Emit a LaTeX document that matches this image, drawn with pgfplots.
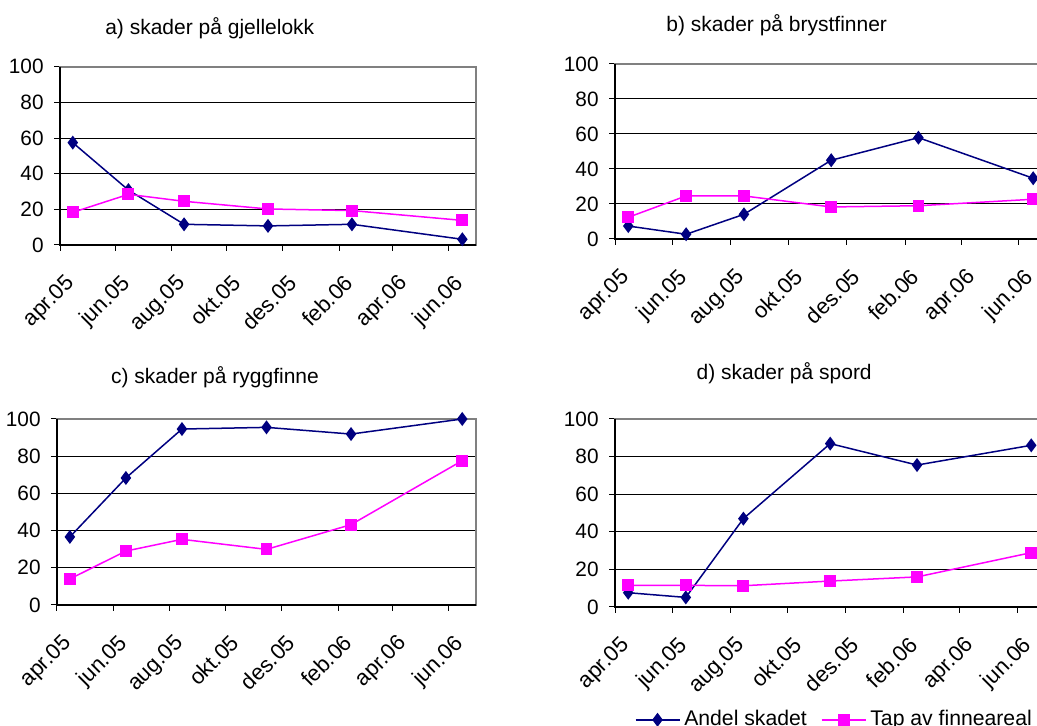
\documentclass[border=0pt]{standalone}
\usepackage{fontspec}
\setmainfont{Liberation Sans}
\usepackage{pgfplots}
\pgfplotsset{compat=1.18}

\definecolor{navy}{RGB}{0,0,128}
\definecolor{mag}{RGB}{255,0,255}
\definecolor{framegray}{RGB}{128,128,128}

% x is days since 1 April 2005
\pgfplotsset{
  panel/.style={
    scale only axis,
    xmin=0, xmax=456, ymin=0, ymax=100,
    xtick={0,61,122,183,244,306,365,426},
    xticklabels={apr.05,jun.05,aug.05,okt.05,des.05,feb.06,apr.06,jun.06},
    ytick={0,20,40,60,80,100},
    tick align=outside, xtick pos=bottom, ytick pos=left,
    major tick length=3pt,
    tick style={black, line width=0.5pt},
    ymajorgrids, grid style={black, line width=0.5pt},
    axis line style={framegray, line width=1pt},
    /pgf/number format/assume math mode=true,
    yticklabel style={font=\fontsize{10.4}{12}\selectfont, inner sep=0pt, xshift=-5pt},
    % shifts below act in the rotated frame of the label
    xticklabel style={font=\fontsize{11}{13}\selectfont, rotate=45, anchor=north east,
      inner sep=1pt, xshift=-5.3pt, yshift=-8.1pt},
    clip=false,
    title style={anchor=base, yshift=-6pt, font=\fontsize{10.5}{12}\selectfont},
    execute at begin axis={\draw[black, line width=0.6pt] (rel axis cs:0,1) -- (rel axis cs:0,0) -- (rel axis cs:1,0);},
    legend image code/.code={\draw[mark repeat=2,mark phase=2] plot coordinates {(0pt,0pt) (11pt,0pt) (22pt,0pt)};},
  },
  andel/.style={navy, line width=0.75pt, mark=diamond*, mark size=2.9pt, mark options={solid, fill=navy}},
  tap/.style={mag, line width=0.75pt, mark=square*, mark size=2.6pt, mark options={solid, fill=mag}},
}

\begin{document}
\begin{tikzpicture}
% a) gill covers
\begin{axis}[panel, at={(30pt,240.5pt)}, anchor=south west, width=208pt, height=89.15pt,
  title={a) skader på gjellelokk}, title style={at={(axis description cs:0.36,1.183)}}]
\addplot[andel] coordinates {(14,57.4) (75,30.8) (136,11.6) (228,10.7) (320,11.6) (441,3.2)};
\addplot[tap] coordinates {(14,18.3) (75,28.4) (136,24.5) (228,20.2) (320,19.3) (441,13.8)};
\end{axis}
% b) pectoral fins
\begin{axis}[panel, at={(307.5pt,243.5pt)}, anchor=south west, width=216.2pt, height=87.5pt,
  title={b) skader på brystfinner}, title style={at={(axis description cs:0.374,1.185)}}]
\addplot[andel] coordinates {(14,7.4) (75,2.7) (136,14.1) (228,45.0) (320,57.9) (441,34.7)};
\addplot[tap] coordinates {(14,12.4) (75,24.6) (136,24.6) (228,18.3) (320,19.0) (441,22.7)};
\end{axis}
% c) dorsal fin
\begin{axis}[panel, at={(28.5pt,60.5pt)}, anchor=south west, width=209.5pt, height=93pt,
  title={c) skader på ryggfinne}, title style={at={(axis description cs:0.377,1.19)}}]
\addplot[andel] coordinates {(14,36.6) (75,68.3) (136,94.6) (228,95.5) (320,91.9) (441,100)};
\addplot[tap] coordinates {(14,14.0) (75,29.0) (136,35.3) (228,29.9) (320,43.2) (441,77.6)};
\end{axis}
% d) tail fin
\begin{axis}[panel, at={(307.5pt,59.5pt)}, anchor=south west, width=215.2pt, height=94pt,
  title={d) skader på spord}, title style={at={(axis description cs:0.393,1.21)}},
  legend columns=2,
  legend style={at={(axis description cs:0.045,-0.60)}, anchor=west, draw=none, fill=none,
    font=\fontsize{10.6}{12}\selectfont, inner sep=0pt,
    /tikz/every even column/.append style={column sep=5pt}}]
\addplot[andel] coordinates {(14,7.6) (75,5.1) (136,47.0) (228,86.9) (320,75.5) (441,86.0)};
\addlegendentry{Andel skadet}
\addplot[tap] coordinates {(14,11.5) (75,11.5) (136,11.3) (228,13.8) (320,16.0) (441,28.9)};
\addlegendentry{Tap av finneareal}
\end{axis}
\pgfresetboundingbox
\path[use as bounding box] (0,0) rectangle (518.5pt,363pt);
\end{tikzpicture}
\end{document}
